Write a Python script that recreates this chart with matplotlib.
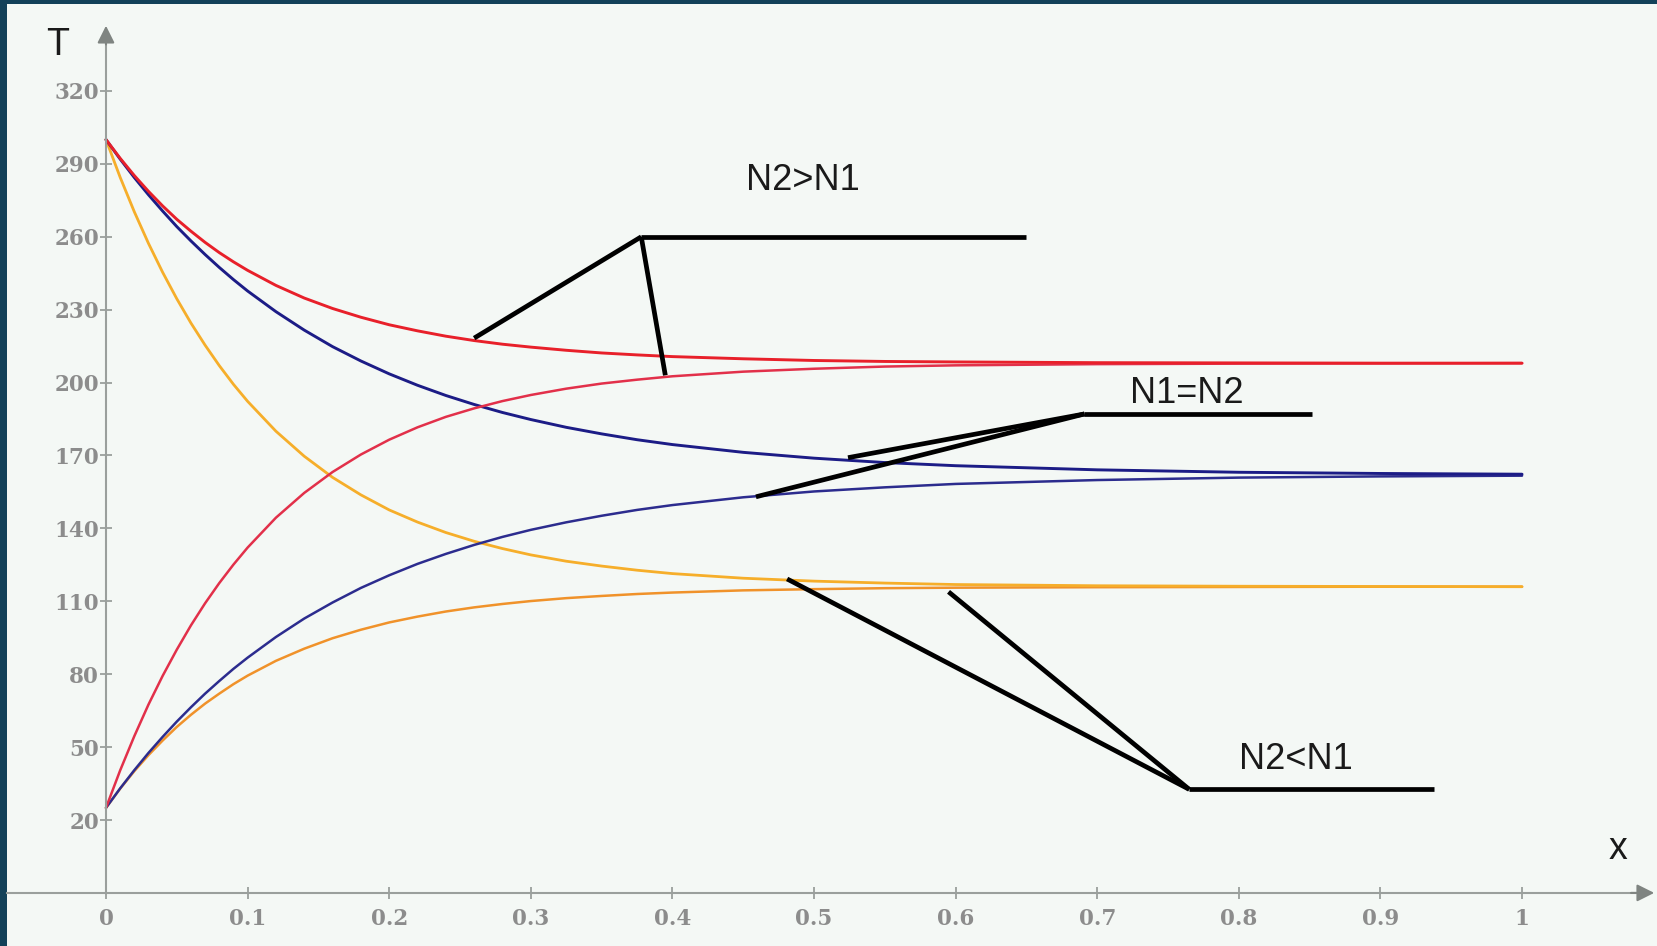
import matplotlib
matplotlib.use("Agg")
import matplotlib.pyplot as plt

# odczyty temperatur wzdluz x (goracy / zimny czynnik)
x_pts = [0, .01, .02, .03, .04, .05, .06, .07, .08, .09, .10,
         .12, .14, .16, .18, .20, .22, .24, .26, .28, .30,
         .325, .35, .375, .40, .45, .50, .55, .60, .70, .80, .90, 1.0]

red_hot = [300, 292.3, 285.2, 278.7, 272.7, 267.2, 262.3, 257.7, 253.5, 249.7, 246.2,
           240.0, 234.8, 230.5, 226.9, 223.8, 221.3, 219.1, 217.3, 215.8, 214.6,
           213.3, 212.2, 211.4, 210.7, 209.8, 209.1, 208.7, 208.5,
           208.2, 208.1, 208.0, 208.0]
red_cold = [25, 40.4, 54.5, 67.5, 79.3, 90.1, 100.1, 109.2, 117.5, 125.1, 132.1,
            144.4, 154.6, 163.2, 170.4, 176.5, 181.6, 185.9, 189.4, 192.4, 194.9,
            197.5, 199.6, 201.2, 202.6, 204.5, 205.7, 206.6, 207.1,
            207.6, 207.8, 207.9, 208.0]
blue_hot = [300, 292.0, 284.4, 277.3, 270.6, 264.2, 258.3, 252.7, 247.4, 242.4, 237.7,
            229.2, 221.6, 214.8, 208.9, 203.6, 198.9, 194.7, 191.0, 187.7, 184.8,
            181.6, 178.9, 176.5, 174.5, 171.3, 168.9, 167.1, 165.8,
            164.1, 163.1, 162.6, 162.3]
blue_cold = [25, 33.0, 40.5, 47.6, 54.2, 60.5, 66.4, 72.0, 77.2, 82.2, 86.8,
             95.3, 102.9, 109.5, 115.5, 120.7, 125.4, 129.5, 133.2, 136.5, 139.4,
             142.5, 145.2, 147.6, 149.6, 152.8, 155.2, 156.9, 158.3,
             159.9, 160.9, 161.4, 161.7]
orange_hot = [300, 284.5, 270.3, 257.3, 245.4, 234.5, 224.5, 215.4, 207.0, 199.3, 192.3,
              180.0, 169.7, 161.0, 153.8, 147.6, 142.6, 138.3, 134.7, 131.7, 129.1,
              126.5, 124.5, 122.8, 121.4, 119.5, 118.3, 117.5, 116.9,
              116.4, 116.2, 116.1, 116.0]
orange_cold = [25, 32.9, 40.1, 46.7, 52.7, 58.3, 63.3, 67.9, 72.0, 75.9, 79.4,
               85.5, 90.5, 94.8, 98.3, 101.3, 103.7, 105.8, 107.5, 108.9, 110.1,
               111.3, 112.2, 113.0, 113.6, 114.5, 115.0, 115.4, 115.6,
               115.8, 115.9, 116.0, 116.0]

y_ticks = [20, 50, 80, 110, 140, 170, 200, 230, 260, 290, 320]
x_ticks = [0, 0.1, 0.2, 0.3, 0.4, 0.5, 0.6, 0.7, 0.8, 0.9, 1]
x_labels = ["0", "0.1", "0.2", "0.3", "0.4", "0.5", "0.6", "0.7", "0.8", "0.9", "1"]

# opisy: tekst, polozenie tekstu, wierzcholek, koniec poziomej kreski, punkty na krzywych
callouts = [
    ("N2>N1", (0.492, 283), (0.378, 260), 0.650, [(0.260, 218.3), (0.395, 203.0)]),
    ("N1=N2", (0.763, 195.7), (0.691, 187.1), 0.852, [(0.524, 169.1), (0.459, 153.0)]),
    ("N2<N1", (0.840, 45.1), (0.765, 32.6), 0.938, [(0.481, 119.2), (0.595, 113.9)]),
]

W, H = 1657, 946
fig = plt.figure(figsize=(W / 100, H / 100), dpi=100, facecolor="#134159")
ax = fig.add_axes([7 / W, 0, (W - 7) / W, (H - 4) / H], facecolor="#f4f8f5")
ax.set_xlim(-0.0699, 1.0953)
ax.set_ylim(-31.85, 355.8)

axis_col = "#9a9f9c"
for s in ["top", "right"]:
    ax.spines[s].set_visible(False)
ax.spines["left"].set_position(("data", 0))
ax.spines["bottom"].set_position(("data", -10))
ax.spines["left"].set_bounds(-10, 340)
ax.spines["bottom"].set_bounds(-0.0699, 1.08)
for s in ["left", "bottom"]:
    ax.spines[s].set_color(axis_col)
    ax.spines[s].set_linewidth(1.5)

# strzalki na koncach osi
ax.annotate("", xy=(0, 348), xytext=(0, 338),
            arrowprops=dict(arrowstyle="-|>", color="#7f8481", lw=1.5, mutation_scale=26))
ax.annotate("", xy=(1.0953, -10), xytext=(1.075, -10),
            arrowprops=dict(arrowstyle="-|>", color="#7f8481", lw=1.5, mutation_scale=26))

ax.set_yticks(y_ticks)
ax.set_xticks(x_ticks)
ax.set_xticklabels(x_labels)
ax.tick_params(axis="both", direction="inout", length=8, width=1.3, color=axis_col,
               labelcolor="#8c8c8c", labelsize=15.5)
ax.tick_params(axis="y", pad=1)
ax.tick_params(axis="x", pad=7)
for lab in ax.get_xticklabels() + ax.get_yticklabels():
    lab.set_family("DejaVu Serif")
    lab.set_weight("bold")

kw = dict(solid_capstyle="round", solid_joinstyle="round")
ax.plot(x_pts, orange_cold, color="#f0922a", lw=1.8, **kw)
ax.plot(x_pts, orange_hot, color="#f6ae2a", lw=2.0, **kw)
ax.plot(x_pts, blue_cold, color="#2c2c8e", lw=1.8, **kw)
ax.plot(x_pts, blue_hot, color="#1c1c86", lw=2.1, **kw)
ax.plot(x_pts, red_cold, color="#e2304a", lw=1.8, **kw)
ax.plot(x_pts, red_hot, color="#e8202a", lw=2.1, **kw)

for text, tpos, vert, x_end, targets in callouts:
    ax.plot([vert[0], x_end], [vert[1], vert[1]], color="black", lw=3.4,
            solid_capstyle="butt")
    for tx, ty in targets:
        ax.plot([vert[0], tx], [vert[1], ty], color="black", lw=3.4,
                solid_capstyle="butt")
    ax.text(tpos[0], tpos[1], text, ha="center", va="center", fontsize=26,
            family="Liberation Sans", color="#1a1a1a")

ax.text(-0.034, 339, "T", ha="center", va="center", fontsize=27,
        family="Liberation Sans", color="#1a1a1a")
ax.text(1.068, 8.1, "x", ha="center", va="center", fontsize=27,
        family="Liberation Sans", color="#1a1a1a")

fig.savefig("out.png", dpi=100, facecolor=fig.get_facecolor())
